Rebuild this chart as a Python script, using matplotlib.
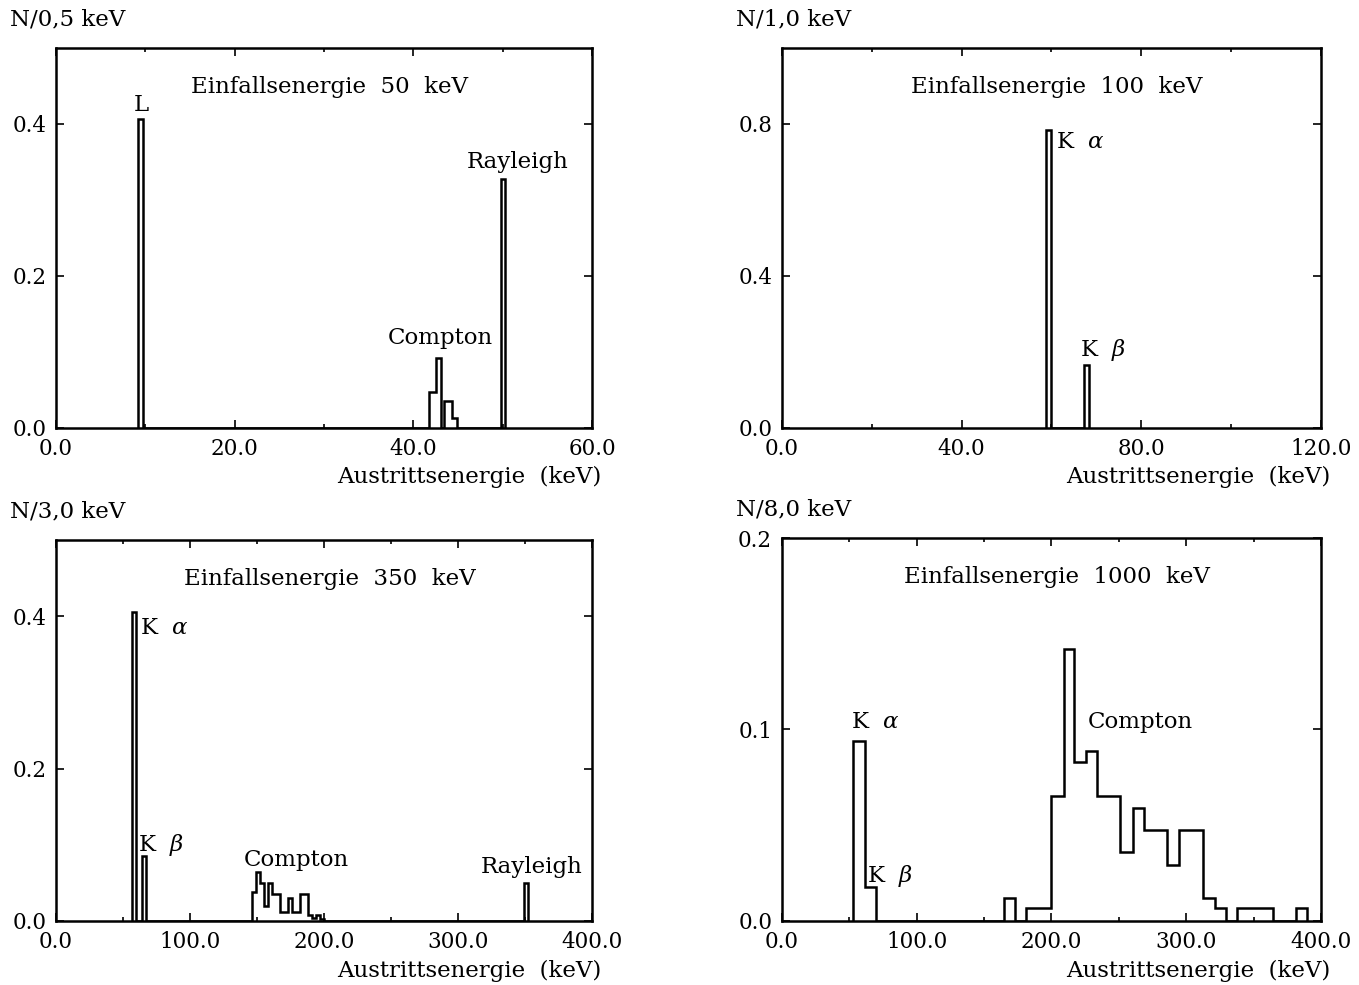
import matplotlib.pyplot as plt
from matplotlib.ticker import MultipleLocator

plt.rcParams['font.family'] = 'DejaVu Serif'
plt.rcParams['mathtext.fontset'] = 'dejavuserif'

# spectra: bin edges (keV) and counts per bin, zeros fill the gaps
edges50 = [9.2, 9.7, 41.7, 42.5, 43.1, 43.4, 44.3, 44.9, 49.8, 50.3]
counts50 = [0.407, 0, 0.047, 0.092, 0, 0.035, 0.013, 0, 0.328]

edges100 = [58.8, 59.8, 67.3, 68.3]
counts100 = [0.784, 0, 0.165]

compton350 = [0.038, 0.064, 0.050, 0.020, 0.050, 0.036, 0.036, 0.012, 0.012,
              0.030, 0.012, 0.012, 0.036, 0.036, 0.008, 0.004, 0.008, 0.002]
edges350 = [57, 60, 64.5, 67.5] + list(range(146, 201, 3)) + [349, 352]
counts350 = [0.405, 0, 0.085, 0] + compton350 + [0, 0.05]

edges1000 = [52.5, 61.6, 69.8, 164.8, 173.0, 181.1, 199.5, 209.4, 216.8, 225.7,
             234.1, 250.9, 260.4, 268.7, 285.6, 294.9, 312.8, 321.5, 329.6,
             338.0, 364.3, 381.6, 389.5]
counts1000 = [0.094, 0.018, 0, 0.0122, 0, 0.0066, 0.0654, 0.142, 0.0829, 0.0888,
              0.0654, 0.0362, 0.0592, 0.0475, 0.0292, 0.0475, 0.0122, 0.0066, 0,
              0.0066, 0, 0.0066]

panels = [
    # rect, edges, counts, xmax, xstep, ymax, ystep, ylabel, title
    ([0.0412, 0.5655, 0.3944, 0.3858], edges50, counts50, 60, 20, 0.5, 0.2,
     'N/0,5 keV', 'Einfallsenergie  50  keV'),
    ([0.5754, 0.5655, 0.3966, 0.3858], edges100, counts100, 120, 40, 1.0, 0.4,
     'N/1,0 keV', 'Einfallsenergie  100  keV'),
    ([0.0412, 0.0650, 0.3944, 0.3868], edges350, counts350, 400, 100, 0.5, 0.2,
     'N/3,0 keV', 'Einfallsenergie  350  keV'),
    ([0.5754, 0.0650, 0.3966, 0.3888], edges1000, counts1000, 400, 100, 0.2, 0.1,
     'N/8,0 keV', 'Einfallsenergie  1000  keV'),
]

# peak labels: (text, x keV, y counts, horizontal alignment)
peak_labels = [
    [('L', 9.5, 0.425, 'center'), ('Rayleigh', 51.7, 0.35, 'center'),
     ('Compton', 43.0, 0.119, 'center')],
    [(r'K  $\alpha$', 61.0, 0.753, 'left'), (r'K  $\beta$', 66.4, 0.204, 'left')],
    [(r'K  $\alpha$', 63.0, 0.385, 'left'), (r'K  $\beta$', 61.0, 0.10, 'left'),
     ('Compton', 179.0, 0.08, 'center'), ('Rayleigh', 355.0, 0.071, 'center')],
    [(r'K  $\alpha$', 51.0, 0.104, 'left'), (r'K  $\beta$', 63.0, 0.0235, 'left'),
     ('Compton', 266.0, 0.104, 'center')],
]

fig = plt.figure(figsize=(13.59, 9.85), dpi=100)

for (rect, edges, counts, xmax, xstep, ymax, ystep, ylab, title), labels in zip(panels, peak_labels):
    ax = fig.add_axes(rect)
    ax.stairs(counts, edges, baseline=0, color='black', linewidth=1.8)
    ax.set_xlim(0, xmax)
    ax.set_ylim(0, ymax)
    ax.xaxis.set_major_locator(MultipleLocator(xstep))
    ax.xaxis.set_minor_locator(MultipleLocator(xstep / 2))
    ax.yaxis.set_major_locator(MultipleLocator(ystep))
    ax.xaxis.set_major_formatter(lambda v, p: '%.1f' % v)
    ax.yaxis.set_major_formatter(lambda v, p: '%.1f' % v)
    ax.tick_params(which='both', direction='in', top=True, right=True,
                   labelsize=15.5, width=1.2)
    ax.tick_params(which='major', length=6, pad=7)
    ax.tick_params(which='minor', length=3)
    for sp in ax.spines.values():
        sp.set_linewidth(1.8)
    ax.text(0.51, 0.897, title, transform=ax.transAxes, ha='center',
            va='center', fontsize=16.5)
    ax.text(1.017, -0.13, 'Austrittsenergie  (keV)', transform=ax.transAxes,
            ha='right', va='center', fontsize=16.5)
    ax.text(-0.086, 1.075, ylab, transform=ax.transAxes, ha='left',
            va='center', fontsize=16.5)
    for txt, x, y, ha in labels:
        ax.text(x, y, txt, ha=ha, va='center', fontsize=16.5)

fig.savefig('out.png', dpi=100)
